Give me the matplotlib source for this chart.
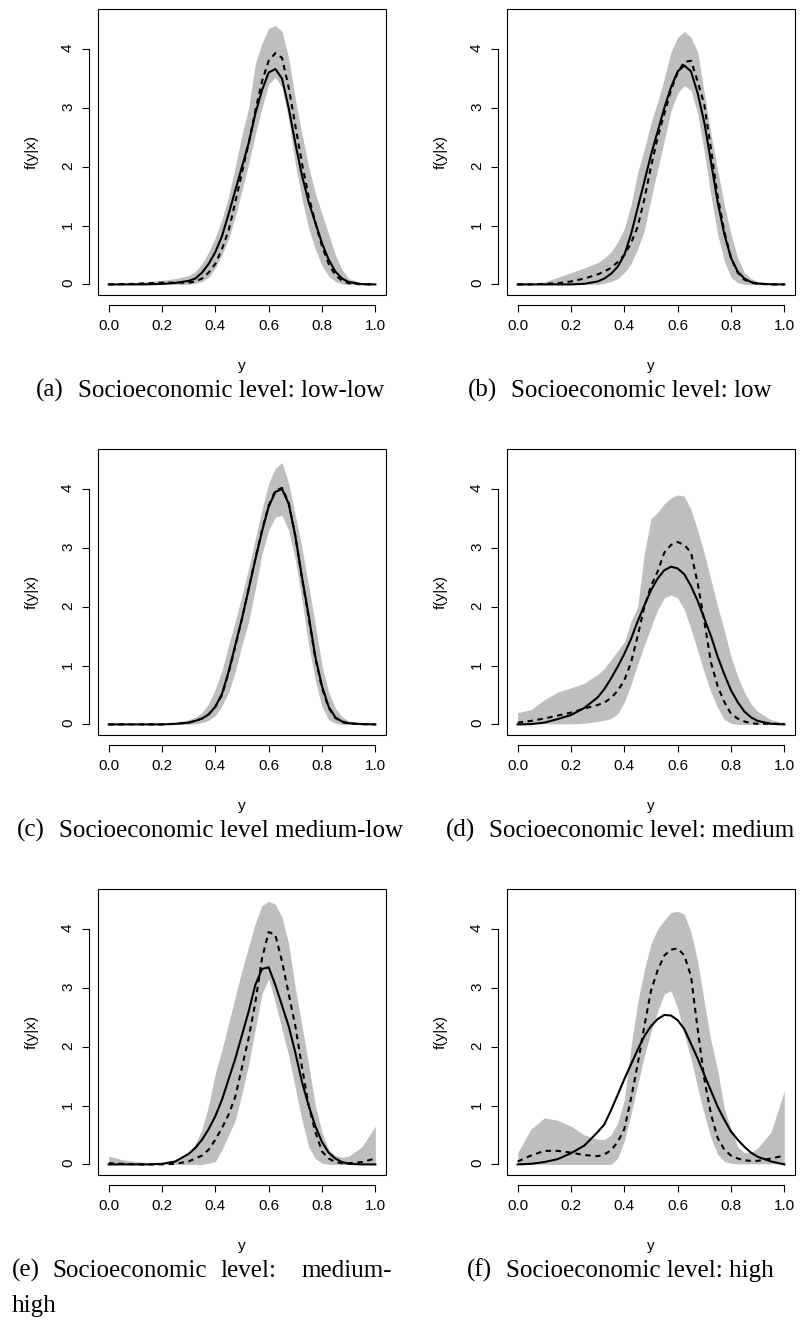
import matplotlib
matplotlib.use("Agg")
import matplotlib.pyplot as plt
from matplotlib.patches import Rectangle

plt.rcParams['font.family'] = ['Liberation Sans', 'DejaVu Sans']

# grid of y values (denser around the peak)
X = [0.0, 0.05, 0.1, 0.15, 0.2, 0.25, 0.3, 0.325, 0.35, 0.375, 0.4, 0.425,
     0.45, 0.475, 0.5, 0.525, 0.55, 0.575, 0.6, 0.625, 0.65, 0.675, 0.7,
     0.725, 0.75, 0.775, 0.8, 0.825, 0.85, 0.875, 0.9, 0.95, 1.0]

# (a) low-low
LL_SOLID = [0, 0, 0, 0.002, 0.008, 0.025, 0.06, 0.1, 0.2, 0.35, 0.55, 0.82, 1.2, 1.6, 2.0, 2.4, 2.9,
            3.3, 3.6, 3.66, 3.5, 3.0, 2.4, 1.85, 1.4, 1.05, 0.7, 0.42, 0.22, 0.1, 0.04, 0.005, 0]
LL_DASHED = [0, 0.005, 0.01, 0.02, 0.03, 0.03, 0.03, 0.05, 0.1, 0.2, 0.35, 0.6, 0.92, 1.4, 1.9, 2.4, 2.95,
             3.45, 3.8, 3.93, 3.85, 3.35, 2.7, 2.05, 1.5, 1.05, 0.65, 0.35, 0.16, 0.06, 0.02, 0.0, 0]
LL_LOWER = [0, 0, 0, 0, 0, 0, 0, 0.02, 0.05, 0.12, 0.28, 0.5, 0.78, 1.15, 1.6, 2.05, 2.55,
            3.0, 3.4, 3.52, 3.35, 2.8, 2.05, 1.45, 0.95, 0.6, 0.32, 0.14, 0.05, 0.01, 0, 0, 0]
LL_UPPER = [0.01, 0.02, 0.03, 0.05, 0.07, 0.1, 0.15, 0.22, 0.35, 0.55, 0.8, 1.1, 1.5, 2.0, 2.55, 3.0, 3.75,
            4.1, 4.35, 4.4, 4.3, 3.85, 3.15, 2.55, 2.0, 1.55, 1.2, 0.85, 0.5, 0.25, 0.1, 0.02, 0.0]

# (b) low
LO_SOLID = [0, 0, 0, 0, 0, 0.01, 0.05, 0.1, 0.18, 0.3, 0.5, 0.85, 1.3, 1.75, 2.2, 2.6, 3.0,
            3.35, 3.62, 3.72, 3.62, 3.25, 2.75, 2.08, 1.4, 0.85, 0.45, 0.22, 0.1, 0.04, 0.015, 0.002, 0]
LO_DASHED = [0, 0, 0.01, 0.02, 0.05, 0.1, 0.17, 0.22, 0.28, 0.38, 0.5, 0.7, 0.98, 1.45, 2.0, 2.5, 2.9,
             3.3, 3.6, 3.78, 3.8, 3.45, 3.05, 2.3, 1.5, 0.9, 0.45, 0.2, 0.08, 0.03, 0.01, 0, 0]
LO_LOWER = [0, 0, 0, 0, 0, 0, 0, 0.02, 0.05, 0.1, 0.2, 0.35, 0.6, 0.92, 1.45, 1.95, 2.45,
            2.95, 3.25, 3.38, 3.3, 2.9, 2.25, 1.5, 0.85, 0.4, 0.12, 0.03, 0, 0, 0, 0, 0]
LO_UPPER = [0.0, 0.01, 0.04, 0.12, 0.2, 0.28, 0.37, 0.45, 0.55, 0.72, 0.95, 1.35, 1.9, 2.3, 2.75, 3.1, 3.5,
            3.95, 4.2, 4.3, 4.2, 3.95, 3.25, 2.55, 1.95, 1.35, 0.85, 0.45, 0.2, 0.1, 0.05, 0.02, 0.0]

# (c) medium-low
ML_SOLID = [0, 0, 0, 0, 0, 0.01, 0.03, 0.06, 0.1, 0.17, 0.3, 0.52, 0.9, 1.35, 1.8, 2.3, 2.8,
            3.28, 3.7, 3.95, 4.0, 3.75, 3.2, 2.5, 1.85, 1.15, 0.65, 0.3, 0.12, 0.05, 0.02, 0.005, 0]
ML_DASHED = [0, 0, 0, 0, 0, 0.01, 0.03, 0.06, 0.1, 0.17, 0.3, 0.5, 0.88, 1.33, 1.8, 2.3, 2.82,
             3.3, 3.72, 3.97, 4.02, 3.77, 3.2, 2.48, 1.82, 1.12, 0.62, 0.28, 0.11, 0.04, 0.015, 0.005, 0]
ML_LOWER = [0, 0, 0, 0, 0, 0, 0, 0.01, 0.03, 0.07, 0.15, 0.32, 0.55, 0.9, 1.35, 1.75, 2.3,
            2.9, 3.3, 3.52, 3.55, 3.3, 2.8, 2.1, 1.35, 0.75, 0.3, 0.08, 0.02, 0, 0, 0, 0]
ML_UPPER = [0, 0, 0, 0.005, 0.01, 0.03, 0.08, 0.12, 0.2, 0.35, 0.6, 0.92, 1.35, 1.75, 2.2, 2.65, 3.15,
            3.65, 4.1, 4.35, 4.45, 4.1, 3.55, 3.0, 2.35, 1.7, 1.0, 0.55, 0.28, 0.13, 0.06, 0.02, 0.01]

# (d) medium
ME_SOLID = [0, 0.005, 0.03, 0.09, 0.16, 0.28, 0.46, 0.6, 0.78, 0.98, 1.2, 1.45, 1.75, 2.02, 2.28, 2.48, 2.62,
            2.68, 2.65, 2.55, 2.35, 2.1, 1.8, 1.5, 1.15, 0.85, 0.58, 0.38, 0.22, 0.12, 0.06, 0.01, 0]
ME_DASHED = [0.03, 0.06, 0.1, 0.15, 0.2, 0.27, 0.33, 0.37, 0.45, 0.57, 0.75, 1.05, 1.5, 2.0, 2.35, 2.6, 2.92,
             3.05, 3.1, 3.05, 2.92, 2.4, 1.75, 1.05, 0.65, 0.38, 0.18, 0.1, 0.05, 0.02, 0.01, 0.01, 0.01]
ME_LOWER = [0.02, 0.02, 0.01, 0.01, 0.01, 0.02, 0.05, 0.07, 0.1, 0.18, 0.38, 0.68, 1.02, 1.35, 1.65, 1.95, 2.15,
            2.2, 2.15, 1.95, 1.62, 1.25, 0.88, 0.55, 0.28, 0.08, 0.02, 0, 0, 0, 0, 0, 0]
ME_UPPER = [0.2, 0.25, 0.42, 0.55, 0.62, 0.7, 0.85, 0.95, 1.1, 1.25, 1.4, 1.75, 2.0, 2.9, 3.5, 3.6, 3.75,
            3.85, 3.9, 3.88, 3.65, 3.3, 2.9, 2.45, 2.0, 1.6, 1.15, 0.82, 0.55, 0.35, 0.22, 0.08, 0.02]

# (e) medium-high
MH_SOLID = [0, 0, 0, 0, 0.01, 0.05, 0.18, 0.28, 0.42, 0.6, 0.82, 1.1, 1.45, 1.8, 2.2, 2.6, 3.05,
            3.32, 3.35, 3.05, 2.7, 2.35, 1.9, 1.4, 1.0, 0.65, 0.38, 0.2, 0.1, 0.04, 0.01, 0, 0]
MH_DASHED = [0.02, 0.01, 0.0, 0.0, 0.0, 0.01, 0.05, 0.1, 0.15, 0.25, 0.42, 0.62, 0.85, 1.15, 1.65, 2.15, 2.75,
             3.5, 3.95, 3.9, 3.45, 2.9, 2.35, 1.65, 1.0, 0.55, 0.22, 0.1, 0.04, 0.02, 0.02, 0.04, 0.1]
MH_LOWER = [0, 0, 0, 0, 0, 0, 0, 0, 0, 0.02, 0.05, 0.25, 0.5, 0.75, 1.2, 1.7, 2.3,
            2.9, 3.15, 2.75, 2.3, 1.85, 1.3, 0.75, 0.3, 0.1, 0.02, 0, 0, 0, 0, 0, 0]
MH_UPPER = [0.14, 0.08, 0.05, 0.03, 0.03, 0.06, 0.2, 0.35, 0.6, 1.0, 1.55, 1.95, 2.4, 2.85, 3.3, 3.7, 4.1,
            4.4, 4.47, 4.42, 4.2, 3.75, 3.0, 2.35, 1.7, 1.0, 0.55, 0.25, 0.15, 0.12, 0.14, 0.3, 0.65]

# (f) high
HI_SOLID = [0, 0.01, 0.04, 0.09, 0.19, 0.32, 0.55, 0.68, 0.92, 1.18, 1.45, 1.7, 1.95, 2.18, 2.35, 2.47, 2.54,
            2.53, 2.45, 2.3, 2.05, 1.8, 1.52, 1.25, 0.98, 0.76, 0.56, 0.42, 0.3, 0.2, 0.13, 0.05, 0.0]
HI_DASHED = [0.05, 0.15, 0.23, 0.23, 0.2, 0.16, 0.14, 0.17, 0.24, 0.38, 0.6, 1.12, 1.7, 2.35, 2.95, 3.3, 3.55,
             3.65, 3.67, 3.55, 3.2, 2.3, 1.45, 0.85, 0.45, 0.25, 0.15, 0.1, 0.07, 0.06, 0.06, 0.1, 0.15]
HI_LOWER = [0, 0, 0, 0, 0, 0, 0, 0, 0, 0.1, 0.4, 0.85, 1.35, 1.85, 2.25, 2.6, 2.9,
            2.95, 2.65, 2.2, 1.8, 1.3, 0.85, 0.45, 0.17, 0.05, 0.02, 0.01, 0.01, 0.01, 0.01, 0.01, 0.01]
HI_UPPER = [0.2, 0.6, 0.79, 0.75, 0.65, 0.5, 0.43, 0.42, 0.5, 0.7, 1.1, 2.0, 2.75, 3.3, 3.75, 4.0, 4.15,
            4.28, 4.3, 4.25, 3.95, 3.45, 2.75, 2.1, 1.6, 0.95, 0.6, 0.3, 0.2, 0.2, 0.28, 0.55, 1.25]

X_TICKS = [0.0, 0.2, 0.4, 0.6, 0.8, 1.0]
X_TICK_LABELS = ['0.0', '0.2', '0.4', '0.6', '0.8', '1.0']
Y_TICKS = [0, 1, 2, 3, 4]

CAPTION_TAGS = ['(a)', '(b)', '(c)', '(d)', '(e)', '(f)']
CAPTION_TEXTS = ['Socioeconomic level: low-low', 'Socioeconomic level: low',
                 'Socioeconomic level medium-low', 'Socioeconomic level: medium',
                 'Socioeconomic level: medium-', 'Socioeconomic level: high']

PANELS = [
    (LL_SOLID, LL_DASHED, LL_LOWER, LL_UPPER),
    (LO_SOLID, LO_DASHED, LO_LOWER, LO_UPPER),
    (ML_SOLID, ML_DASHED, ML_LOWER, ML_UPPER),
    (ME_SOLID, ME_DASHED, ME_LOWER, ME_UPPER),
    (MH_SOLID, MH_DASHED, MH_LOWER, MH_UPPER),
    (HI_SOLID, HI_DASHED, HI_LOWER, HI_UPPER),
]

W, H = 804, 1329
fig = plt.figure(figsize=(W / 100, H / 100), dpi=100)

BOX_LEFT = [98, 507]
BOX_TOP = [9, 449, 889]
BOX_W, BOX_H = 288, 286


def draw_panel(ax, solid, dashed, lower, upper):
    ax.fill_between(X, lower, upper, color='#bebebe', linewidth=0)
    ax.plot(X, dashed, color='black', lw=1.5, ls=(0, (2.6, 2.2)))
    ax.plot(X, solid, color='black', lw=1.5)
    ax.set_xlim(-0.04, 1.04)
    ax.set_ylim(-0.18, 4.68)

    # R-like axes: detached axis lines plus a box
    for s in ['top', 'right']:
        ax.spines[s].set_visible(False)
    ax.spines['bottom'].set_position(('outward', 7.2))
    ax.spines['left'].set_position(('outward', 6.5))
    ax.spines['bottom'].set_bounds(0, 1)
    ax.spines['left'].set_bounds(0, 4)
    for s in ['bottom', 'left']:
        ax.spines[s].set_linewidth(0.8)
    ax.add_patch(Rectangle((0, 0), 1, 1, transform=ax.transAxes, fill=False,
                           lw=0.8, ec='black', clip_on=False))

    ax.set_xticks(X_TICKS)
    ax.set_xticklabels(X_TICK_LABELS)
    ax.set_yticks(Y_TICKS)
    ax.tick_params(direction='out', length=5, width=0.8, labelsize=11, pad=5)
    ax.tick_params(axis='y', labelrotation=90)

    ax.text(0.5, (BOX_H - 75) / BOX_H - 1, 'y', transform=ax.transAxes,
            ha='center', va='baseline', fontsize=11)
    ax.text(-66 / BOX_W, 0.5, 'f(y|x)', transform=ax.transAxes, rotation=90,
            ha='center', va='center', fontsize=11)


for i, (solid, dashed, lower, upper) in enumerate(PANELS):
    row, col = divmod(i, 2)
    l = BOX_LEFT[col] / W
    b = 1 - (BOX_TOP[row] + BOX_H) / H
    ax = fig.add_axes([l, b, BOX_W / W, BOX_H / H])
    draw_panel(ax, solid, dashed, lower, upper)

# captions (LaTeX subfigure style, serif), laid out in pixels
cap = dict(fontfamily='Liberation Serif', fontsize=18, va='baseline', ha='left')
renderer = fig.canvas.get_renderer()


def put(px, py, s):
    t = fig.text(px / W, 1 - py / H, s, **cap)
    return t.get_window_extent(renderer).width


def width_of(s):
    t = fig.text(0, 0, s, **cap)
    w = t.get_window_extent(renderer).width
    t.remove()
    return w


TAG_GAP = 14
centers = [210, 620, 210, 620, None, 620]
base_y = [397, 397, 837, 837, 1277, 1277]
for i in range(6):
    if i == 4:
        # justified line, colon gets the wider TeX space
        words = [CAPTION_TAGS[i]] + CAPTION_TEXTS[i].split()
        widths = [width_of(w) for w in words]
        left, right = 12, 392
        weights = [1, 1, 2]
        unit = (right - left - sum(widths)) / sum(weights)
        px = left
        for k, w in enumerate(words):
            put(px, base_y[i], w)
            if k < len(weights):
                px += widths[k] + unit * weights[k]
        put(12, 1312, 'high')
        continue
    tw = width_of(CAPTION_TAGS[i])
    bw = width_of(CAPTION_TEXTS[i])
    total = tw + TAG_GAP + bw
    start = centers[i] - total / 2
    if start + total > 800:
        start = 800 - total
    put(start, base_y[i], CAPTION_TAGS[i])
    put(start + tw + TAG_GAP, base_y[i], CAPTION_TEXTS[i])

fig.savefig('out.png', dpi=100)
